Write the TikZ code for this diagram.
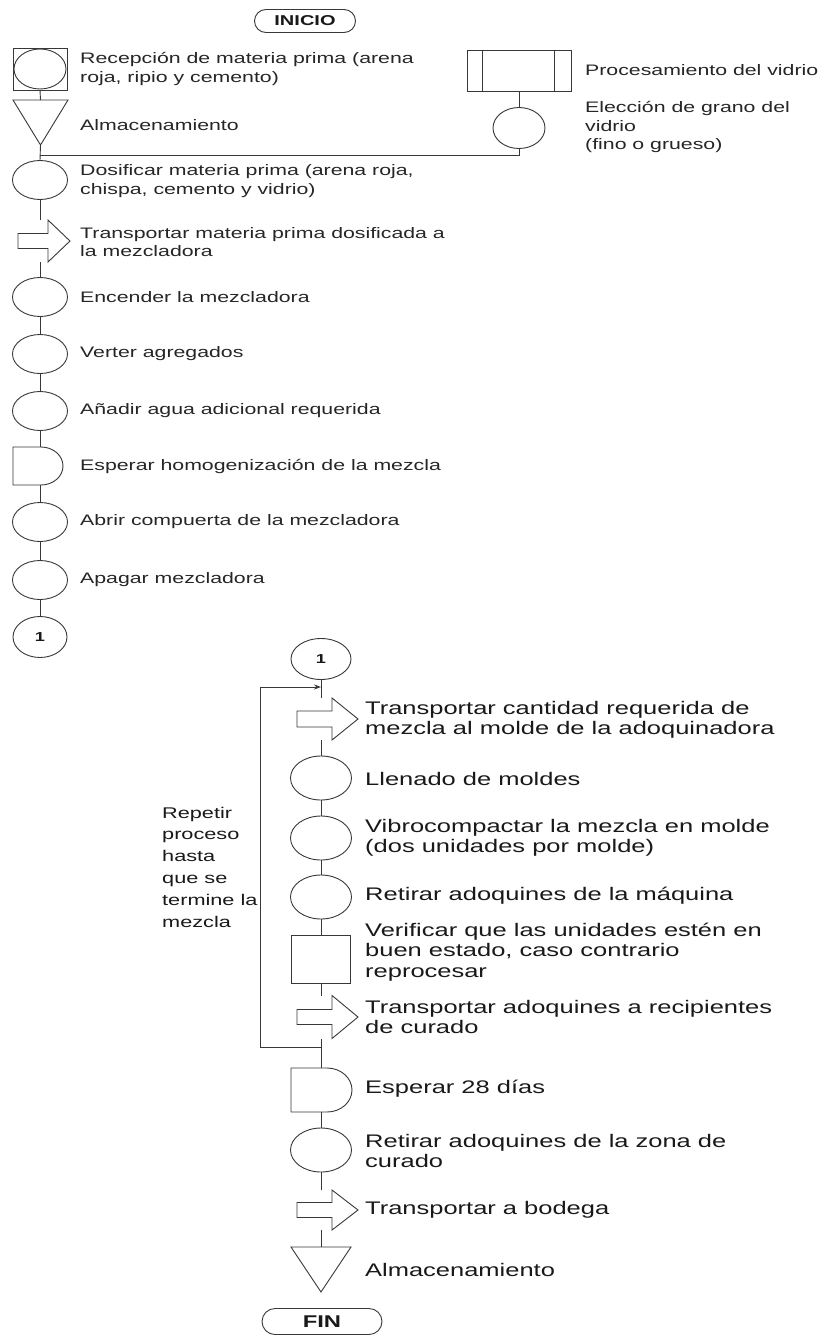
\documentclass[tikz,border=0pt]{standalone}
\usepackage{fontspec}
\setmainfont[FakeStretch=1.4]{Liberation Sans}
\usetikzlibrary{shapes.geometric,arrows.meta}
\newcommand{\blkarrow}[3]{\draw[ln] ([yshift=#3]#1.west) -- ([xshift=#2,yshift=#3]#1.west) -- ([xshift=#2]#1.north west) -- (#1.east) -- ([xshift=#2]#1.south west) -- ([xshift=#2,yshift=-#3]#1.west) -- ([yshift=-#3]#1.west) -- cycle;}
\newcommand{\delayshape}[3]{\draw[ln] (#1.north west) -- ([xshift=-#2]#1.north east) arc[start angle=90,end angle=-90,x radius=#2,y radius=#3] -- (#1.south west) -- cycle;}
\newcommand{\trishape}[1]{\draw[ln] (#1.north west) -- (#1.north east) -- (#1.south) -- cycle;}
\begin{document}
\begin{tikzpicture}[x=1pt,y=-1pt,
  ln/.style={draw=black!78,line width=0.9pt},
  bx/.style n args={2}{rectangle,inner sep=0pt,outer sep=0pt,minimum width=#1,minimum height=#2},
  opT/.style={ellipse,ln,inner sep=0pt,outer sep=0pt,minimum width=55pt,minimum height=39pt},
  opB/.style={ellipse,ln,inner sep=0pt,outer sep=0pt,minimum width=61pt,minimum height=44pt},
  txtT/.style={anchor=west,align=left,inner sep=0pt,text=black!85,font=\fontsize{15.2}{18.5}\selectfont},
  txtB/.style={anchor=west,align=left,inner sep=0pt,text=black!90,font=\fontsize{18.2}{20.5}\selectfont},
  term/.style={ln,rectangle,inner sep=0pt,font=\bfseries,text=black!90},
  conn/.style={ellipse,ln,inner sep=0pt,font=\bfseries\fontsize{13}{14}\selectfont,text=black!90}
]
\useasboundingbox (0,0) rectangle (820,1336);
\fill[white] (0,0) rectangle (820,1336);

% ---------- top part ----------
\node[term,rounded corners=11.5pt,minimum width=101pt,minimum height=23pt,font=\bfseries\fontsize{14.3}{15}\selectfont] (inicio) at (305,21) {INICIO};

\node[bx={54pt}{42pt},ln,draw] (rec) at (40,69) {};
\node[ellipse,ln,inner sep=0pt,minimum width=52pt,minimum height=40pt] (recE) at (rec.center) {};
\node[bx={55pt}{45pt}] (alm1) at (40.5,122.5) {};
\trishape{alm1}
\coordinate (jt) at (40,155);
\node[opT] (dos) at (40,180) {};
\node[bx={52pt}{42pt}] (tr1) at (44,241) {};
\blkarrow{tr1}{30pt}{7.5pt}
\node[opT] (enc) at (40,297) {};
\node[opT] (ver) at (40,354) {};
\node[opT] (ana) at (40,411) {};
\node[bx={50pt}{38pt}] (esp1) at (38,466) {};
\delayshape{esp1}{22pt}{19pt}
\node[opT] (abr) at (40,522) {};
\node[opT] (apa) at (40,580) {};
\node[conn,minimum width=54pt,minimum height=41pt] (c1a) at (40,637) {1};

\node[bx={104pt}{41pt},ln,draw] (proc) at (519,70.5) {};
\draw[ln] ([xshift=15pt]proc.north west) -- ([xshift=15pt]proc.south west);
\draw[ln] ([xshift=-17pt]proc.north east) -- ([xshift=-17pt]proc.south east);
\node[ellipse,ln,inner sep=0pt,minimum width=52pt,minimum height=41pt] (eleg) at (519,128) {};

% top connectors
\draw[ln] (rec.south) -- (alm1.north);
\draw[ln] (alm1.south) -- (dos.north);
\draw[ln] (jt) -| (eleg.south);
\draw[ln] (proc.south) -- (eleg.north);
\draw[ln] (dos.south) -- (dos.south |- tr1.north);
\draw[ln] (enc.north |- tr1.south) -- (enc.north);
\draw[ln] (enc.south) -- (ver.north);
\draw[ln] (ver.south) -- (ana.north);
\draw[ln] (ana.south) -- (ana.south |- esp1.north);
\draw[ln] (abr.north |- esp1.south) -- (abr.north);
\draw[ln] (abr.south) -- (apa.north);
\draw[ln] (apa.south) -- (c1a.north);

% top texts
\node[txtT] (t-rec) at (80,69) {Recepción de materia prima (arena\\roja, ripio y cemento)};
\node[txtT] (t-alm1) at (80,125) {Almacenamiento};
\node[txtT] (t-dos) at (80,181) {Dosificar materia prima (arena roja,\\chispa, cemento y vidrio)};
\node[txtT] (t-tr1) at (80,242) {Transportar materia prima dosificada a\\la mezcladora};
\node[txtT] (t-enc) at (80,297) {Encender la mezcladora};
\node[txtT] (t-ver) at (80,354) {Verter agregados};
\node[txtT] (t-ana) at (80,411) {Añadir agua adicional requerida};
\node[txtT] (t-esp1) at (80,466) {Esperar homogenización de la mezcla};
\node[txtT] (t-abr) at (80,522) {Abrir compuerta de la mezcladora};
\node[txtT] (t-apa) at (80,580) {Apagar mezcladora};
\node[txtT] (t-proc) at (585,70) {Procesamiento del vidrio};
\node[txtT] (t-eleg) at (585,127) {Elección de grano del\\vidrio\\(fino o grueso)};

% ---------- bottom part ----------
\node[conn,minimum width=60pt,minimum height=41pt] (c1b) at (321,659) {1};
\coordinate (j1) at (321,687);
\node[bx={61pt}{42pt}] (tr2) at (327.5,719) {};
\blkarrow{tr2}{35pt}{8pt}
\node[opB] (llen) at (321,778) {};
\node[opB] (vib) at (321,838) {};
\node[opB] (ret) at (321,897) {};
\node[bx={59pt}{48pt},ln,draw] (verif) at (321,959) {};
\node[bx={61pt}{43pt}] (tr3) at (327.5,1017) {};
\blkarrow{tr3}{35pt}{7.5pt}
\coordinate (j2) at (321,1047);
\node[bx={61pt}{44pt}] (esp2) at (321.5,1090) {};
\delayshape{esp2}{25pt}{22pt}
\node[opB] (retz) at (321,1150) {};
\node[bx={61pt}{40pt}] (tr4) at (327.5,1210) {};
\blkarrow{tr4}{35pt}{7.5pt}
\node[bx={60pt}{45pt}] (alm2) at (321,1269.5) {};
\trishape{alm2}
\node[term,rounded corners=13pt,minimum width=120pt,minimum height=26pt,font=\bfseries\fontsize{17}{18}\selectfont] (fin) at (322,1321.5) {FIN};

% bottom connectors
\draw[ln] (c1b.south) -- (c1b.south |- tr2.north);
\draw[ln] (llen.north |- tr2.south) -- (llen.north);
\draw[ln] (llen.south) -- (vib.north);
\draw[ln] (vib.south) -- (ret.north);
\draw[ln] (ret.south) -- (verif.north);
\draw[ln] (verif.south) -- (verif.south |- tr3.north);
\draw[ln] (retz.north |- tr3.south) -- (retz.north |- esp2.north);
\draw[ln] (retz.north |- esp2.south) -- (retz.north);
\draw[ln] (retz.south) -- (retz.south |- tr4.north);
\draw[ln] (retz.south |- tr4.south) -- (retz.south |- alm2.north);
\draw[ln,-{Stealth[length=7pt,width=5pt]}] (j2) -- ++(-61,0) |- (j1);

% bottom texts
\node[txtB] (t-tr2) at (365,720) {Transportar cantidad requerida de\\mezcla al molde de la adoquinadora};
\node[txtB] (t-llen) at (365,779) {Llenado de moldes};
\node[txtB] (t-vib) at (365,838) {Vibrocompactar la mezcla en molde\\(dos unidades por molde)};
\node[txtB] (t-ret) at (365,896) {Retirar adoquines de la máquina};
\node[txtB] (t-verif) at (365,952) {Verificar que las unidades estén en\\buen estado, caso contrario\\reprocesar};
\node[txtB] (t-tr3) at (365,1017) {Transportar adoquines a recipientes\\de curado};
\node[txtB] (t-esp2) at (365,1089) {Esperar 28 días};
\node[txtB] (t-retz) at (365,1151) {Retirar adoquines de la zona de\\curado};
\node[txtB] (t-tr4) at (365,1210) {Transportar a bodega};
\node[txtB] (t-alm2) at (365,1270) {Almacenamiento};
\node[anchor=west,align=left,inner sep=0pt,text=black!90,font=\fontsize{15.5}{21.8}\selectfont] (t-rep) at (162,867) {Repetir\\proceso\\hasta\\que se\\termine la\\mezcla};
\end{tikzpicture}
\end{document}
